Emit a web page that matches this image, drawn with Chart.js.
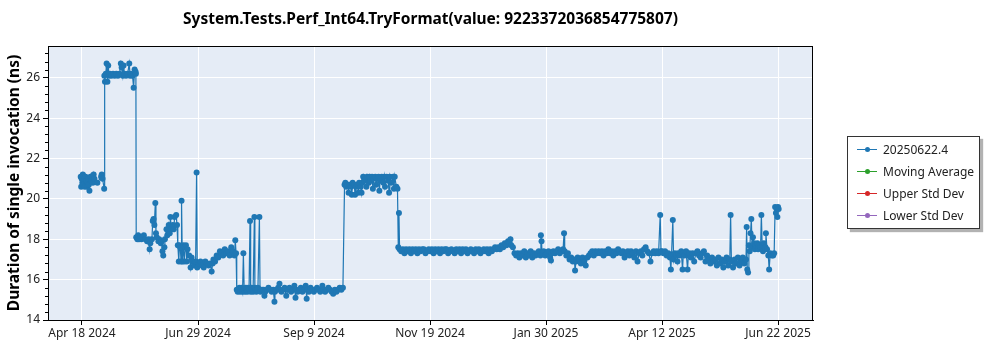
<!DOCTYPE html>
<html>
<head>
<meta charset="utf-8">
<title>System.Tests.Perf_Int64.TryFormat</title>
<script src="https://cdn.jsdelivr.net/npm/chart.js@4.4.1/dist/chart.umd.min.js"></script>
<style>
    html, body { margin: 0; padding: 0; background: #fff; }
    #wrap { position: relative; width: 1000px; height: 350px; }
    #legend {
        position: absolute; left: 847px; top: 136px; width: 133px; height: 93px;
        box-sizing: border-box; border: 1px solid #333; background: #fff;
        box-shadow: 3px 3px 1px rgba(0, 0, 0, 0.3);
        font: 12px 'Noto Sans', sans-serif; color: #222;
    }
    .legend-row { position: absolute; left: 9px; height: 14px; display: flex; align-items: center; white-space: nowrap; }
    .swatch { position: relative; width: 20px; height: 1px; margin-right: 6px; }
    .swatch::after {
        content: ''; position: absolute; left: 7.5px; top: -2px;
        width: 5px; height: 5px; border-radius: 50%; background: inherit;
    }
</style>
</head>
<body>
<div id="wrap">
    <canvas id="perf-chart" width="1000" height="350"></canvas>
    <div id="legend"></div>
</div>
<script>
// Run dates are stored as day offsets from Apr 18 2024
const startDate = new Date(2024, 3, 18);

const runDays = [
    // ~21 ns
    0, 0.3, 0.6, 1, 1.3, 1.6, 2, 2.5, 3, 3.5,
    4, 4.5, 5, 5.4, 6, 6.5, 7, 7.5, 8, 8.5,
    10.3, 12.6, 13, 13.5, 14.5,
    // ~26 ns
    14.6, 15, 15.5, 16, 16.5, 17, 17.5, 18, 19, 20,
    21, 22, 23, 24, 24.8, 25.3, 26, 26.5, 27, 28,
    29, 30, 30.5, 31, 32, 32.7, 33.3, 33.9, 34.1, 34.3,
    // ~18 / ~17 ns
    35, 35.5, 36, 37, 37.5, 38, 39, 40, 41, 42,
    42.6, 43, 44, 44.5, 45, 45.5, 46.1, 46.5, 47, 48,
    48.5, 49.5, 50, 50.5, 51, 51.7, 52, 53, 53.5, 54.4,
    55, 55.4, 56, 56.9, 57.5, 58, 59, 59.5, 60, 60.6,
    61, 61.5, 62, 62.3, 62.8, 63.3, 64, 64.5, 65, 65.5,
    66, 67, 67.9, 68.5, 69, 70, 70.5, 71, 71.6, 72,
    73, 74, 75, 76, 77, 78, 79, 80, 80.9, 81.5,
    82, 83, 84, 85, 86, 87, 88, 89, 90, 91,
    92, 93, 94, 95, 95.5, 96, 96.4,
    // ~15.5 ns
    97, 97.5, 98, 98.5, 99, 99.5, 100, 100.5, 101, 101.5,
    102, 102.5, 103, 103.5, 104, 104.6, 105, 105.5, 106, 106.5,
    107.3, 107.6, 108, 108.5, 109, 109.5, 110.4, 110.8, 111, 112,
    113, 113.5, 114, 115, 116, 117, 118, 119, 119.7, 120,
    121, 122, 122.8, 123, 124, 125, 126, 127, 128, 129,
    130, 131, 132, 132.7, 133, 134, 135, 136, 137, 138,
    139, 139.6, 140, 141, 142, 143, 144, 145, 146, 147,
    148, 149.3, 150, 151, 152, 153, 154, 155, 156, 157,
    158, 159, 160, 161, 162,
    // ~20.8 ns
    163, 163.5, 164, 165, 165.5, 166, 167, 167.5, 168, 169,
    169.5, 170, 171, 171.5, 172, 173, 173.5, 174, 174.5, 175,
    176, 176.5, 177, 178, 178.5, 179, 180, 180.5, 181, 182,
    182.5, 183, 184, 184.5, 185, 186, 187, 187.5, 188, 189,
    190, 190.5, 191, 192, 193, 193.5, 194, 195, 195.7, 196.2,
    196.6, 197,
    // ~17.4 ns
    198, 199, 200, 201, 202, 203, 204, 205, 206, 207,
    208, 209, 210, 211, 212, 213, 214, 215, 216, 217,
    218, 219, 220, 221, 222, 223, 224, 225, 226, 227,
    228, 229, 230, 231, 232, 233, 234, 235, 236, 237,
    238, 239, 240, 241, 242, 243, 244, 245, 246, 247,
    248, 249, 250, 251, 252, 253, 254, 255, 256, 257,
    258, 259, 260, 261, 262, 263, 264, 265, 265.5, 266,
    267, 268, 269, 270, 271, 272, 273, 274, 275, 276,
    277, 278, 279, 280, 281, 282, 283, 284, 284.3, 284.7,
    285, 286, 287, 288, 289, 290, 290.5, 291, 292, 293,
    294, 295, 296, 297, 298, 298.6, 299, 300, 301, 302,
    303, 304, 305, 305.4, 306, 307, 308, 309, 310, 311,
    312, 313, 314, 315, 316, 317, 318, 319, 320, 321,
    322, 323, 324, 325, 326, 327, 328, 329, 330, 331,
    332, 333,
    // ~17.2 ns with outliers
    334, 335, 336, 337, 338, 339, 340, 341, 342, 343,
    344, 345, 346, 347, 348, 349, 350, 351, 352, 353,
    354, 355, 356, 357, 358, 358.5, 359, 360, 361, 362,
    363, 364, 364.6, 365, 365.8, 366.3, 367, 368, 368.7, 369,
    370, 371, 371.8, 372.3, 373, 374, 374.9, 375.4, 376, 377,
    378, 379, 380, 381, 382, 383, 384, 385, 386, 387,
    388, 389, 390, 391, 392, 393, 394, 395, 396, 397,
    398, 399, 400, 401, 401.5, 402, 403, 404, 405, 406,
    407, 408, 409, 410, 411, 411.4, 411.8, 412.3, 412.8, 413.3,
    413.8, 414.3, 414.8, 415.3, 416, 416.5, 417, 418, 418.5, 419,
    420, 420.5, 421, 421.5, 422, 423, 423.3, 424, 424.8, 425.3,
    426, 427, 427.8, 428.4, 429, 429.5, 430, 430.4, 430.8, 431.2
];

const durations = [
    21.1, 20.6, 21.0, 20.8, 21.2, 20.7, 21.0, 20.6, 21.1, 20.9,
    20.6, 21.0, 20.7, 20.4, 21.1, 20.9, 21.1, 20.8, 21.2, 21.0,
    20.8, 21.1, 21.2, 21.0, 20.5,

    26.1, 25.8, 26.2, 26.7, 25.8, 26.6, 26.1, 26.2, 26.1, 26.2,
    26.1, 26.2, 26.1, 26.2, 26.7, 26.5, 26.1, 26.6, 26.2, 26.1,
    26.2, 26.7, 26.1, 26.2, 26.1, 25.5, 26.4, 26.3, 26.2, 18.1,

    18.0, 18.2, 18.0, 18.1, 18.0, 18.1, 18.2, 18.0, 17.9, 18.0,
    17.5, 17.8, 18.0, 18.9, 19.0, 18.7, 19.8, 18.3, 18.1, 17.9,
    18.0, 17.8, 17.9, 17.4, 17.2, 17.6, 18.0, 18.5, 18.2, 18.7,
    18.3, 19.1, 18.5, 18.7, 18.5, 19.1, 19.2, 18.7, 17.7, 16.9,
    17.7, 17.6, 16.9, 19.9, 16.9, 17.7, 16.9, 17.6, 17.7, 16.9,
    17.5, 17.2, 16.6, 17.1, 16.9, 16.8, 16.7, 16.9, 21.3, 16.6,
    16.8, 16.9, 16.7, 16.6, 16.9, 16.8, 16.7, 16.8, 16.4, 16.8,
    17.0, 16.9, 17.2, 17.1, 17.4, 17.3, 17.2, 17.5, 17.3, 17.4,
    17.2, 17.6, 17.4, 17.2, 17.95, 17.3, 15.5,

    15.4, 15.5, 15.6, 15.4, 15.5, 15.6, 15.4, 17.3, 15.5, 15.4,
    15.6, 15.5, 15.4, 15.6, 15.5, 18.9, 15.4, 15.6, 15.5, 15.4,
    19.1, 15.6, 15.5, 15.4, 15.5, 15.6, 19.1, 15.5, 15.4, 15.5,
    15.5, 15.2, 15.4, 15.5, 15.6, 15.5, 15.4, 15.5, 14.9, 15.4,
    15.5, 15.6, 15.8, 15.5, 15.4, 15.5, 15.6, 15.2, 15.5, 15.6,
    15.4, 15.5, 15.7, 15.1, 15.5, 15.4, 15.5, 15.6, 15.4, 15.5,
    15.7, 15.05, 15.5, 15.4, 15.6, 15.5, 15.4, 15.5, 15.6, 15.5,
    15.4, 15.7, 15.5, 15.4, 15.5, 15.6, 15.5, 15.4, 15.3, 15.5,
    15.4, 15.5, 15.6, 15.5, 15.6,

    20.7, 20.8, 20.6, 20.7, 20.3, 20.7, 20.6, 20.2, 20.8, 20.7,
    20.2, 20.6, 20.7, 20.3, 20.8, 20.6, 20.3, 20.8, 21.1, 20.9,
    21.0, 20.6, 21.1, 20.8, 21.1, 20.9, 21.1, 20.5, 21.0, 21.1,
    20.7, 21.0, 21.1, 20.4, 20.9, 21.1, 20.8, 21.1, 20.6, 21.1,
    20.9, 20.3, 21.1, 20.8, 21.1, 20.5, 21.1, 20.6, 20.5, 17.6,
    19.3, 17.5,

    17.4, 17.5, 17.3, 17.5, 17.4, 17.5, 17.3, 17.5, 17.4, 17.5,
    17.3, 17.5, 17.4, 17.5, 17.5, 17.3, 17.4, 17.5, 17.4, 17.5,
    17.3, 17.5, 17.4, 17.5, 17.3, 17.5, 17.4, 17.5, 17.5, 17.3,
    17.4, 17.5, 17.4, 17.3, 17.5, 17.4, 17.5, 17.3, 17.5, 17.4,
    17.5, 17.3, 17.4, 17.5, 17.4, 17.3, 17.5, 17.4, 17.5, 17.3,
    17.4, 17.5, 17.4, 17.5, 17.3, 17.5, 17.4, 17.5, 17.6, 17.5,
    17.6, 17.5, 17.7, 17.6, 17.8, 17.7, 17.9, 17.8, 18.0, 17.7,
    17.6, 17.3, 17.2, 17.3, 17.1, 17.3, 17.2, 17.4, 17.1, 17.3,
    17.2, 17.4, 17.1, 17.3, 17.2, 17.3, 17.4, 17.2, 18.2, 17.9,
    17.3, 17.4, 17.2, 17.3, 17.4, 17.1, 16.95, 17.3, 17.4, 17.3,
    17.4, 17.5, 17.3, 17.4, 17.5, 18.3, 17.4, 17.2, 17.3, 17.0,
    17.1, 16.9, 17.0, 16.45, 16.9, 17.1, 17.0, 16.8, 17.1, 16.9,
    16.7, 17.1, 17.2, 17.3, 17.4, 17.2, 17.4, 17.3, 17.4, 17.3,
    17.4, 17.2, 17.4, 17.3, 17.5, 17.3, 17.4, 17.2, 17.4, 17.3,
    17.5, 17.4,

    17.3, 17.4, 17.1, 17.3, 17.4, 17.2, 17.4, 17.3, 17.1, 17.4,
    16.9, 17.3, 17.4, 17.2, 17.5, 17.6, 17.4, 17.3, 16.9, 17.3,
    17.4, 17.3, 17.4, 17.3, 19.2, 17.4, 17.4, 17.3, 17.4, 17.2,
    17.3, 17.1, 16.5, 17.2, 18.95, 17.0, 17.3, 17.2, 16.9, 17.3,
    17.2, 17.4, 16.5, 17.3, 17.2, 17.4, 16.5, 17.2, 17.3, 17.1,
    17.3, 16.9, 17.3, 17.4, 17.2, 17.1, 17.3, 17.4, 16.9, 17.2,
    17.0, 16.8, 17.1, 16.9, 17.0, 16.7, 17.1, 16.8, 17.0, 16.6,
    16.9, 17.1, 16.7, 17.0, 19.2, 16.9, 16.6, 17.0, 16.8, 17.1,
    16.7, 16.9, 17.1, 16.8, 17.0, 18.6, 16.5, 16.35, 17.7, 17.4,
    18.3, 19.0, 17.6, 18.1, 17.8, 17.5, 17.7, 17.8, 17.5, 17.7,
    17.6, 19.2, 17.7, 17.4, 17.8, 17.6, 18.3, 17.5, 17.2, 16.5,
    17.3, 17.2, 17.2, 17.3, 19.6, 19.3, 19.5, 19.1, 19.6, 19.5
];

// Axis ticks (x ticks fall part-way through a day; labels show the calendar date)
const xTickDays = [0.8, 72.47, 144.13, 215.8, 287.47, 359.13, 430.8];
const yTickValues = [14, 16, 18, 20, 22, 24, 26];
const yMinorStep = 0.4;

const monthNames = ['Jan', 'Feb', 'Mar', 'Apr', 'May', 'Jun', 'Jul', 'Aug', 'Sep', 'Oct', 'Nov', 'Dec'];
const fontFamily = "'Noto Sans', sans-serif";

function formatDay(day) {
    const d = new Date(startDate.getFullYear(), startDate.getMonth(), startDate.getDate() + Math.floor(day));
    return `${monthNames[d.getMonth()]} ${d.getDate()} ${d.getFullYear()}`;
}

// Plot background, frame and minor y ticks
const plotFrame = {
    id: 'plotFrame',
    beforeDraw(chart) {
        const { ctx, chartArea: a } = chart;
        ctx.save();
        ctx.fillStyle = '#e5ecf6';
        ctx.fillRect(a.left, a.top, a.right - a.left, a.bottom - a.top);
        ctx.restore();
    },
    afterDraw(chart) {
        const { ctx, chartArea: a } = chart;
        const y = chart.scales.y;
        ctx.save();
        ctx.strokeStyle = '#000';
        ctx.lineWidth = 1;
        ctx.strokeRect(a.left + 0.5, a.top + 0.5, a.right - a.left - 1, a.bottom - a.top);
        ctx.beginPath();
        for (let v = y.min; v <= y.max + 1e-9; v += yMinorStep) {
            if (Math.abs(v / 2 - Math.round(v / 2)) < 1e-6) continue;
            const py = Math.round(y.getPixelForValue(v)) + 0.5;
            ctx.moveTo(a.left - 3, py);
            ctx.lineTo(a.left, py);
        }
        ctx.stroke();
        ctx.restore();
    }
};

const ctx = document.getElementById('perf-chart').getContext('2d');

const chart = new Chart(ctx, {
    type: 'line',
    data: {
        datasets: [{
            label: '20250622.4',
            data: runDays.map((d, i) => ({ x: d, y: durations[i] })),
            borderColor: '#1f77b4',
            backgroundColor: '#1f77b4',
            borderWidth: 1.2,
            pointRadius: 3,
            pointBorderWidth: 0,
            pointBackgroundColor: '#1f77b4',
            tension: 0
        }, {
            label: 'Moving Average',
            data: [],
            borderColor: '#2ca02c',
            backgroundColor: '#2ca02c'
        }, {
            label: 'Upper Std Dev',
            data: [],
            borderColor: '#d62728',
            backgroundColor: '#d62728'
        }, {
            label: 'Lower Std Dev',
            data: [],
            borderColor: '#9467bd',
            backgroundColor: '#9467bd'
        }]
    },
    options: {
        responsive: false,
        animation: false,
        devicePixelRatio: 1,
        layout: { padding: { left: 0, right: 187, top: 0, bottom: 0 } },
        plugins: {
            legend: { display: false },
            tooltip: { enabled: false },
            title: {
                display: true,
                fullSize: false,
                text: 'System.Tests.Perf_Int64.TryFormat(value: 9223372036854775807)',
                color: '#000',
                font: { family: fontFamily, size: 15.5, weight: 'bold' },
                padding: { top: 10, bottom: 17.4 }
            }
        },
        scales: {
            x: {
                type: 'linear',
                min: -20.2,
                max: 452.4,
                afterBuildTicks: scale => { scale.ticks = xTickDays.map(v => ({ value: v })); },
                afterFit: scale => { scale.height = 30; },
                ticks: {
                    callback: value => formatDay(value),
                    color: '#222',
                    font: { family: fontFamily, size: 12 },
                    padding: 1,
                    maxRotation: 0,
                    autoSkip: false
                },
                grid: { color: '#fff', lineWidth: 1, tickColor: '#000', tickLength: 5 },
                border: { color: '#000', width: 1 }
            },
            y: {
                min: 14,
                max: 27.57,
                afterBuildTicks: scale => { scale.ticks = yTickValues.map(v => ({ value: v })); },
                afterFit: scale => { scale.width = 48; },
                title: {
                    display: true,
                    text: 'Duration of single invocation (ns)',
                    color: '#000',
                    font: { family: fontFamily, size: 15.5, weight: 'bold' },
                    padding: { top: 5, bottom: 0 }
                },
                ticks: {
                    color: '#222',
                    font: { family: fontFamily, size: 12 },
                    padding: 3
                },
                grid: { color: '#fff', lineWidth: 1, tickColor: '#000', tickLength: 5 },
                border: { color: '#000', width: 1 }
            }
        }
    },
    plugins: [plotFrame]
});

// Legend box on the right, built from the datasets
function buildLegend() {
    const legend = document.getElementById('legend');
    legend.innerHTML = '';
    chart.data.datasets.forEach((ds, i) => {
        const row = document.createElement('div');
        row.className = 'legend-row';
        row.style.top = (5 + i * 22) + 'px';
        const swatch = document.createElement('span');
        swatch.className = 'swatch';
        swatch.style.background = ds.borderColor;
        const label = document.createElement('span');
        label.textContent = ds.label;
        row.appendChild(swatch);
        row.appendChild(label);
        legend.appendChild(row);
    });
}

buildLegend();
</script>
</body>
</html>
